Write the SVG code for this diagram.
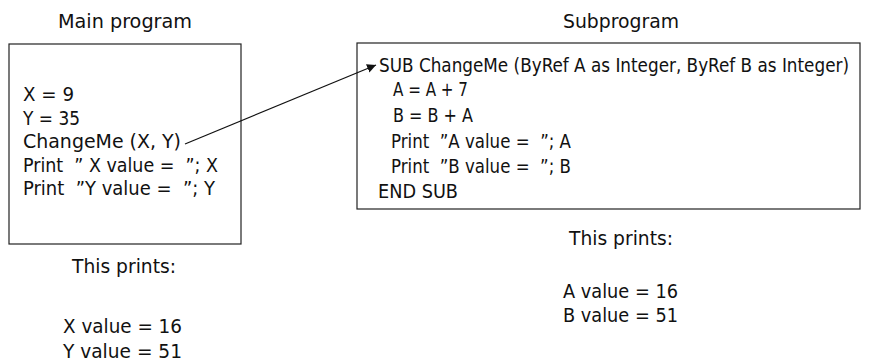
<svg xmlns="http://www.w3.org/2000/svg" width="878" height="363" viewBox="0 0 878 363">
<style>
text{font-family:"DejaVu Sans Condensed","Liberation Sans",sans-serif;font-size:19px;fill:#111}
.box{fill:#fff;stroke:#222;stroke-width:1.2}
.conn{fill:none;stroke:#111;stroke-width:1.2}
</style>
<defs>
<marker id="ah" viewBox="0 0 10 10" refX="10" refY="5" markerWidth="9" markerHeight="9" markerUnits="userSpaceOnUse" orient="auto"><path d="M0,0 L10,5 L0,10 z" fill="#111"/></marker>
</defs>
<rect width="878" height="363" fill="#fff"/>
<g id="main">
<text x="58" y="28" textLength="134" lengthAdjust="spacingAndGlyphs">Main program</text>
<rect class="box" x="9" y="44" width="232" height="200"/>
<text x="23" y="101" textLength="51" lengthAdjust="spacingAndGlyphs">X = 9</text>
<text x="23" y="125" textLength="57" lengthAdjust="spacingAndGlyphs">Y = 35</text>
<text x="23" y="148" textLength="158" lengthAdjust="spacingAndGlyphs">ChangeMe (X, Y)</text>
<text x="23" y="172" xml:space="preserve" textLength="195" lengthAdjust="spacingAndGlyphs">Print  ” X value =  ”; X</text>
<text x="23" y="195" xml:space="preserve" textLength="192" lengthAdjust="spacingAndGlyphs">Print  ”Y value =  ”; Y</text>
</g>
<g id="main-output">
<text x="72" y="273" textLength="104" lengthAdjust="spacingAndGlyphs">This prints:</text>
<text x="63" y="333" textLength="119" lengthAdjust="spacingAndGlyphs">X value = 16</text>
<text x="63" y="358" textLength="119" lengthAdjust="spacingAndGlyphs">Y value = 51</text>
</g>
<g id="sub">
<text x="563" y="28" textLength="116" lengthAdjust="spacingAndGlyphs">Subprogram</text>
<rect class="box" x="357" y="43" width="503" height="166"/>
<text x="379" y="72" textLength="470" lengthAdjust="spacingAndGlyphs">SUB ChangeMe (ByRef A as Integer, ByRef B as Integer)</text>
<text x="393" y="96" textLength="75" lengthAdjust="spacingAndGlyphs">A = A + 7</text>
<text x="393" y="122" textLength="80" lengthAdjust="spacingAndGlyphs">B = B + A</text>
<text x="391" y="148" xml:space="preserve" textLength="180" lengthAdjust="spacingAndGlyphs">Print  ”A value =  ”; A</text>
<text x="391" y="173" xml:space="preserve" textLength="180" lengthAdjust="spacingAndGlyphs">Print  ”B value =  ”; B</text>
<text x="378" y="198" textLength="80" lengthAdjust="spacingAndGlyphs">END SUB</text>
</g>
<g id="sub-output">
<text x="569" y="245" textLength="104" lengthAdjust="spacingAndGlyphs">This prints:</text>
<text x="563" y="298" textLength="115" lengthAdjust="spacingAndGlyphs">A value = 16</text>
<text x="563" y="322" textLength="115" lengthAdjust="spacingAndGlyphs">B value = 51</text>
</g>
<g id="connectors">
<line class="conn" x1="185" y1="144" x2="376" y2="65" marker-end="url(#ah)"/>
</g>
</svg>
